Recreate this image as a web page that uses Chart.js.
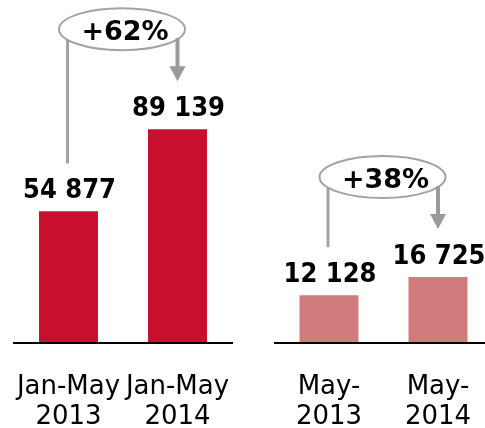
<!DOCTYPE html>
<html>
<head>
<meta charset="utf-8">
<script src="https://cdn.jsdelivr.net/npm/chart.js@4/dist/chart.umd.min.js"></script>
<style>
  html, body { margin: 0; padding: 0; background: #fff; overflow: hidden; }
  #wrap { position: relative; width: 485px; height: 428px; overflow: hidden; }
  #ytdChart { position: absolute; left: 0; top: 0; }
  #mayChart { position: absolute; left: 243px; top: 0; }
</style>
</head>
<body>
<div id="wrap">
  <canvas id="ytdChart" width="243" height="428"></canvas>
  <canvas id="mayChart" width="262" height="428"></canvas>
</div>
<script>
// Year-to-date totals
const ytdLabels = [["Jan-May", "2013"], ["Jan-May", "2014"]];
const ytdValues = [54877, 89139];

// Single month
const mayLabels = [["May-", "2013"], ["May-", "2014"]];
const mayValues = [12128, 16725];

const ytdColor = "#C8102E";
const mayColor = "#D07C7C";

function formatValue(v) {
  return String(v).replace(/\B(?=(\d{3})+(?!\d))/g, " ");
}

// Numbers above each bar
const valueLabels = {
  id: "valueLabels",
  afterDatasetsDraw(chart) {
    const ctx = chart.ctx;
    const meta = chart.getDatasetMeta(0);
    const data = chart.data.datasets[0].data;
    ctx.save();
    ctx.font = 'bold 27px "DejaVu Sans Condensed", "DejaVu Sans", sans-serif';
    ctx.fillStyle = "#000";
    ctx.textAlign = "center";
    ctx.textBaseline = "alphabetic";
    meta.data.forEach((bar, i) => {
      ctx.fillText(formatValue(data[i]), bar.x + 1, bar.y - 13);
    });
    ctx.restore();
  },
};

// Ellipse with the growth rate, line from the first bar, arrow to the second
const growthBadge = {
  id: "growthBadge",
  afterDatasetsDraw(chart) {
    const ctx = chart.ctx;
    const [a, b] = chart.getDatasetMeta(0).data;
    const data = chart.data.datasets[0].data;
    const pct = Math.round((data[1] / data[0] - 1) * 100);
    const top = Math.min(a.y, b.y);
    const cx = (a.x + b.x) / 2 - 1;
    const cy = top - 100;
    const rx = 63, ry = 21;
    const edgeY = (x) => cy + ry * Math.sqrt(Math.max(0, 1 - Math.pow((x - cx) / rx, 2)));

    ctx.save();
    ctx.strokeStyle = "#a3a3a3";
    ctx.lineWidth = 2;
    ctx.beginPath();
    ctx.ellipse(cx, cy, rx, ry, 0, 0, Math.PI * 2);
    ctx.stroke();

    // connector from the first value
    const lx = a.x - 1;
    ctx.lineWidth = 3;
    ctx.beginPath();
    ctx.moveTo(lx, edgeY(lx));
    ctx.lineTo(lx, a.y - 48);
    ctx.stroke();

    // arrow down to the second value
    const ax = b.x;
    const tip = b.y - 48;
    ctx.strokeStyle = "#9a9a9a";
    ctx.fillStyle = "#9a9a9a";
    ctx.lineWidth = 4;
    ctx.beginPath();
    ctx.moveTo(ax, edgeY(ax) - 1);
    ctx.lineTo(ax, tip - 14);
    ctx.stroke();
    ctx.beginPath();
    ctx.moveTo(ax - 8, tip - 15);
    ctx.lineTo(ax + 8, tip - 15);
    ctx.lineTo(ax, tip);
    ctx.closePath();
    ctx.fill();

    ctx.fillStyle = "#000";
    ctx.font = 'bold 27px "DejaVu Sans", sans-serif';
    ctx.textAlign = "center";
    ctx.textBaseline = "alphabetic";
    ctx.fillText("+" + pct + "%", cx + 3, cy + 11);
    ctx.restore();
  },
};

function makeChart(id, labels, values, color, yMax, padLeft, padRight) {
  return new Chart(document.getElementById(id), {
    type: "bar",
    data: {
      labels: labels,
      datasets: [
        {
          data: values,
          backgroundColor: color,
          borderWidth: 0,
          categoryPercentage: 0.541,
          barPercentage: 1,
        },
      ],
    },
    options: {
      responsive: false,
      animation: false,
      layout: { padding: { left: padLeft, right: padRight, top: 0, bottom: 0 } },
      plugins: { legend: { display: false }, tooltip: { enabled: false } },
      scales: {
        x: {
          grid: { display: false, drawTicks: false },
          border: { display: true, color: "#000", width: 2, z: 1 },
          ticks: {
            color: "#000",
            padding: 29,
            maxRotation: 0,
            autoSkip: false,
            font: { family: '"DejaVu Sans", sans-serif', size: 26, lineHeight: 1.15 },
          },
          afterFit: (scale) => {
            // fixed axis band, no extra side padding for the wide labels
            scale.height = 85;
            scale.paddingLeft = 0;
            scale.paddingRight = 0;
          },
        },
        y: { display: false, min: 0, max: yMax },
      },
    },
    plugins: [valueLabels, growthBadge],
  });
}

makeChart("ytdChart", ytdLabels, ytdValues, ytdColor, 143000, 14, 11);
makeChart("mayChart", mayLabels, mayValues, mayColor, 87000, 31.5, 12.5);
</script>
</body>
</html>
